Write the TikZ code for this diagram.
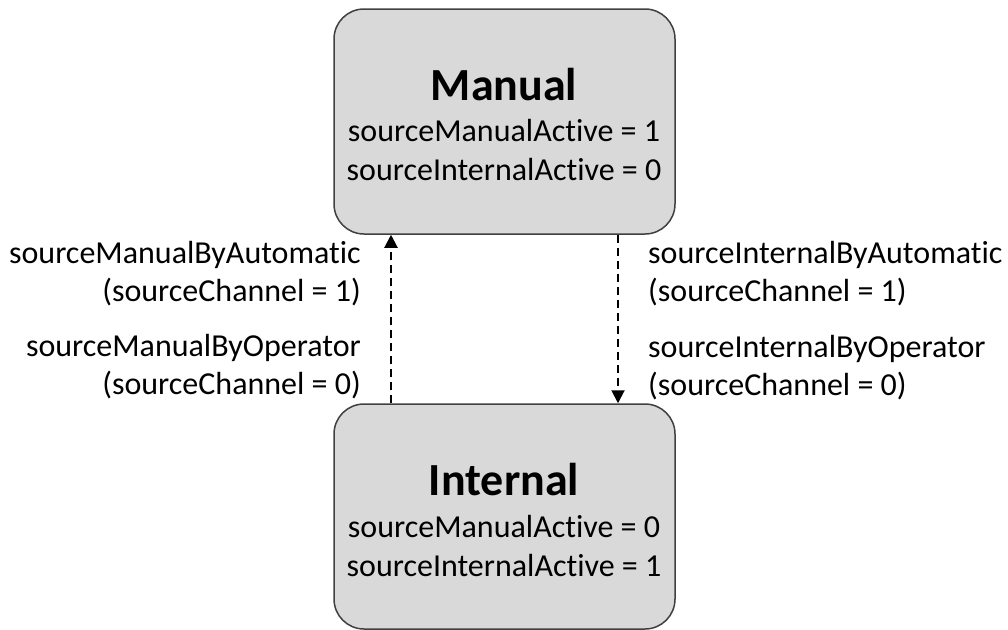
\documentclass[tikz,border=0pt]{standalone}
\usepackage{fontspec}
\setmainfont[Ligatures=NoCommon]{Carlito}
\usetikzlibrary{arrows.meta}
\begin{document}
\begin{tikzpicture}[x=1pt,y=-1pt,
  state/.style={draw=black!75, line width=1.5pt, fill=black!15,
    rounded corners=30pt, minimum width=341pt, minimum height=225pt,
    inner sep=0pt},
  title/.style={font=\bfseries\fontsize{46}{50}\selectfont, inner sep=0pt},
  vars/.style={font=\fontsize{32}{39}\selectfont, align=center, inner sep=0pt},
  lbl/.style={font=\fontsize{32}{38}\selectfont, inner sep=0pt},
  trans/.style={dashed, dash pattern=on 8pt off 5pt, line width=2pt,
    -{Triangle[width=13pt,length=13pt]}}
]
\useasboundingbox (0,0) rectangle (1008,629);

% states
\node[state] (manual) at (504.5,121.5) {};
\node[state] (internal) at (504.5,516.5) {};

\node[title] (mtitle) at (504,85) {Manual};
\node[vars] (mvars) at (504,150) {sourceManualActive = 1\\sourceInternalActive = 0};

\node[title] (ititle) at (504,480) {Internal};
\node[vars] (ivars) at (504,546) {sourceManualActive = 0\\sourceInternalActive = 1};

% transitions
\coordinate (upx) at (391,0);
\coordinate (downx) at (618,0);
\draw[trans] (internal.north -| upx) -- (manual.south -| upx);
\draw[trans] (manual.south -| downx) -- (internal.north -| downx);

% transition labels
\node[lbl, anchor=east, align=right] (la) at (361,274) {sourceManualByAutomatic\\(sourceChannel = 1)};
\node[lbl, anchor=east, align=right] (lb) at (361,367) {sourceManualByOperator\\(sourceChannel = 0)};
\node[lbl, anchor=west, align=left] (ra) at (648,274) {sourceInternalByAutomatic\\(sourceChannel = 1)};
\node[lbl, anchor=west, align=left] (rb) at (648,368) {sourceInternalByOperator\\(sourceChannel = 0)};
\end{tikzpicture}
\end{document}
